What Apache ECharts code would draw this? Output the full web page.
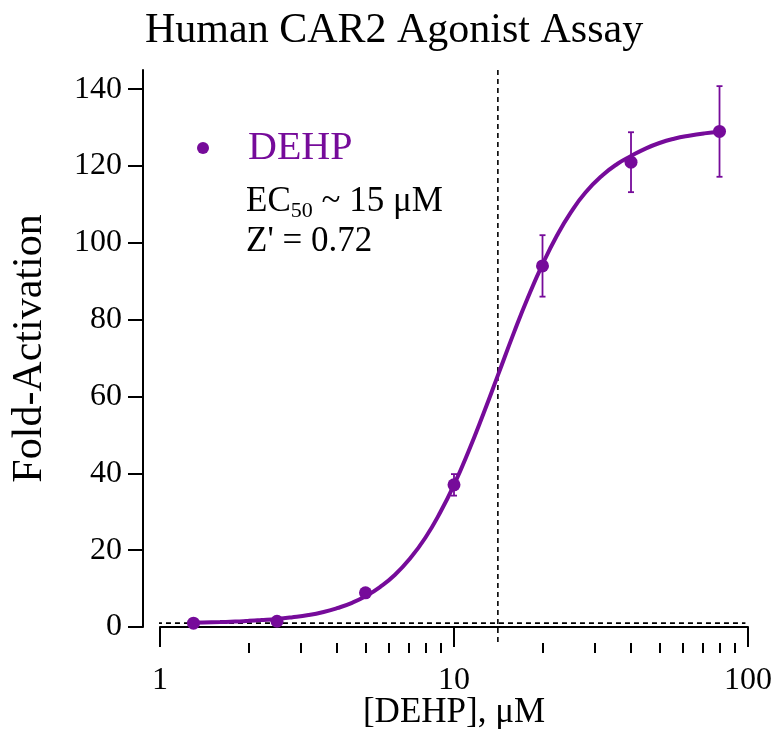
<!DOCTYPE html>
<html>
<head>
<meta charset="utf-8">
<title>Human CAR2 Agonist Assay</title>
<script src="https://cdn.jsdelivr.net/npm/echarts@6/dist/echarts.min.js"></script>
<style>
  html, body { margin: 0; padding: 0; background: #fff; }
  #chart { width: 774px; height: 729px; }
</style>
</head>
<body>
<div id="chart"></div>
<script>
// measured points (mean +/- sd)
const concentration = [1.3, 2.5, 5, 10, 20, 40, 80]
const foldActivation = [1.0, 1.5, 8.9, 37, 94, 121, 129]
const sdActivation = [0.3, 0.3, 0.8, 2.8, 8, 7.8, 11.8]

// fitted curve
const curveX = [1.25, 1.4, 1.6, 1.8, 2, 2.2, 2.5, 2.8, 3.2, 3.6, 4, 4.5, 5, 5.6, 6.3, 7.1, 8, 9, 10, 11.2, 12.6, 14.1, 16, 17.8, 20, 22.4, 25, 28, 32, 36, 40, 45, 50, 56, 63, 71, 80]
const curveY = [1.1, 1.2, 1.3, 1.4, 1.6, 1.8, 2.1, 2.5, 3.1, 3.9, 4.9, 6.3, 8.0, 10.4, 13.6, 17.9, 23.3, 30.0, 37, 45.7, 55.6, 65.5, 76.7, 85.6, 94.4, 101.9, 108, 113.1, 117.6, 120.6, 122.6, 124.6, 126, 127.1, 127.9, 128.5, 128.9]

// reference lines
const ec50Line = [[14.1, 145], [14.1, -4]]
const baselineLine = [[0.91, 1], [98, 1]]

const yTicks = [0, 20, 40, 60, 80, 100, 120, 140]
const minorTicks = [2, 3, 4, 5, 6, 7, 8, 9, 20, 30, 40, 50, 60, 70, 80, 90]

const purple = '#760b9a'
const serif = 'Liberation Serif'

const chart = echarts.init(document.getElementById('chart'))

const errorBars = concentration.map((c, i) => [c, foldActivation[i] - sdActivation[i], foldActivation[i] + sdActivation[i]])

// tick numbers in the serif face
const tickLabel = {
  formatter: v => '{n|' + Math.round(v) + '}',
  rich: { n: { fontFamily: serif, fontSize: 32, color: '#000' } }
}

const option = {
  backgroundColor: '#fff',
  animation: false,
  textStyle: { fontFamily: serif },
  title: [
    {
      text: 'Human CAR2 Agonist Assay',
      left: 145,
      top: 10,
      padding: 0,
      textStyle: { fontFamily: serif, fontSize: 42, fontWeight: 'normal', color: '#000' }
    },
    {
      text: '{a|EC}{s|50}{a| ~ 15 μM}\n{a|Z\' = 0.72}',
      left: 246,
      top: 182,
      padding: 0,
      textStyle: {
        fontFamily: serif,
        fontWeight: 'normal',
        color: '#000',
        rich: {
          a: { fontFamily: serif, fontSize: 35, lineHeight: 40, color: '#000' },
          s: { fontFamily: serif, fontSize: 22, lineHeight: 22, verticalAlign: 'bottom', color: '#000' }
        }
      }
    }
  ],
  legend: {
    data: ['DEHP'],
    left: 192,
    top: 123,
    icon: 'circle',
    itemWidth: 80,
    itemHeight: 12,
    textStyle: { fontFamily: serif, fontSize: 40, color: purple }
  },
  grid: {
    left: 160,
    right: 26,
    top: 70,
    bottom: 102,
    containLabel: false,
    outerBoundsMode: 'none'
  },
  xAxis: [
    {
      type: 'log',
      logBase: 10,
      min: 1,
      max: 100,
      position: 'bottom',
      offset: 16,
      name: '[DEHP], μM',
      nameLocation: 'middle',
      nameGap: 52,
      nameMoveOverlap: false,
      nameTextStyle: { fontFamily: serif, fontSize: 35, color: '#000' },
      axisLine: { show: true, lineStyle: { color: '#000', width: 2 } },
      axisTick: { show: true, length: 20, lineStyle: { color: '#000', width: 2 } },
      axisLabel: Object.assign({ margin: 22 }, tickLabel),
      splitLine: { show: false },
      minorTick: { show: false }
    },
    {
      // minor decade ticks
      type: 'log',
      logBase: 10,
      min: 1,
      max: 100,
      position: 'bottom',
      offset: 16,
      axisLine: { show: false },
      axisTick: { show: true, length: 10, customValues: minorTicks, lineStyle: { color: '#000', width: 2 } },
      axisLabel: { show: false },
      splitLine: { show: false }
    }
  ],
  yAxis: {
    type: 'value',
    min: 0,
    max: 145,
    position: 'left',
    offset: 17,
    name: 'Fold-Activation',
    nameLocation: 'middle',
    nameGap: 92,
    nameMoveOverlap: false,
    nameTextStyle: { fontFamily: serif, fontSize: 42, color: '#000' },
    axisLine: { show: true, lineStyle: { color: '#000', width: 2 } },
    axisTick: { show: true, length: 15, customValues: yTicks, lineStyle: { color: '#000', width: 2 } },
    axisLabel: Object.assign({ customValues: yTicks, margin: 21 }, tickLabel),
    splitLine: { show: false }
  },
  series: [
    {
      name: 'ec50',
      type: 'line',
      clip: false,
      silent: true,
      showSymbol: false,
      lineStyle: { color: '#000', width: 1.6, type: [5, 4] },
      data: ec50Line
    },
    {
      name: 'baseline',
      type: 'line',
      clip: false,
      silent: true,
      showSymbol: false,
      lineStyle: { color: '#000', width: 1.6, type: [5, 4] },
      data: baselineLine
    },
    {
      name: 'fit',
      type: 'line',
      smooth: true,
      showSymbol: false,
      lineStyle: { color: purple, width: 4 },
      data: curveX.map((x, i) => [x, curveY[i]])
    },
    {
      name: 'error',
      type: 'custom',
      renderItem: (params, api) => {
        const top = api.coord([api.value(0), api.value(2)])
        const bottom = api.coord([api.value(0), api.value(1)])
        const cap = 3
        const style = { stroke: purple, lineWidth: 1.8 }
        return {
          type: 'group',
          children: [
            { type: 'line', shape: { x1: top[0], y1: top[1], x2: bottom[0], y2: bottom[1] }, style },
            { type: 'line', shape: { x1: top[0] - cap, y1: top[1], x2: top[0] + cap, y2: top[1] }, style },
            { type: 'line', shape: { x1: bottom[0] - cap, y1: bottom[1], x2: bottom[0] + cap, y2: bottom[1] }, style }
          ]
        }
      },
      encode: { x: 0, y: [1, 2] },
      data: errorBars,
      z: 3
    },
    {
      name: 'DEHP',
      type: 'scatter',
      symbol: 'circle',
      symbolSize: 13,
      itemStyle: { color: purple, opacity: 1 },
      data: concentration.map((c, i) => [c, foldActivation[i]]),
      z: 4
    }
  ]
}

chart.setOption(option)
</script>
</body>
</html>
